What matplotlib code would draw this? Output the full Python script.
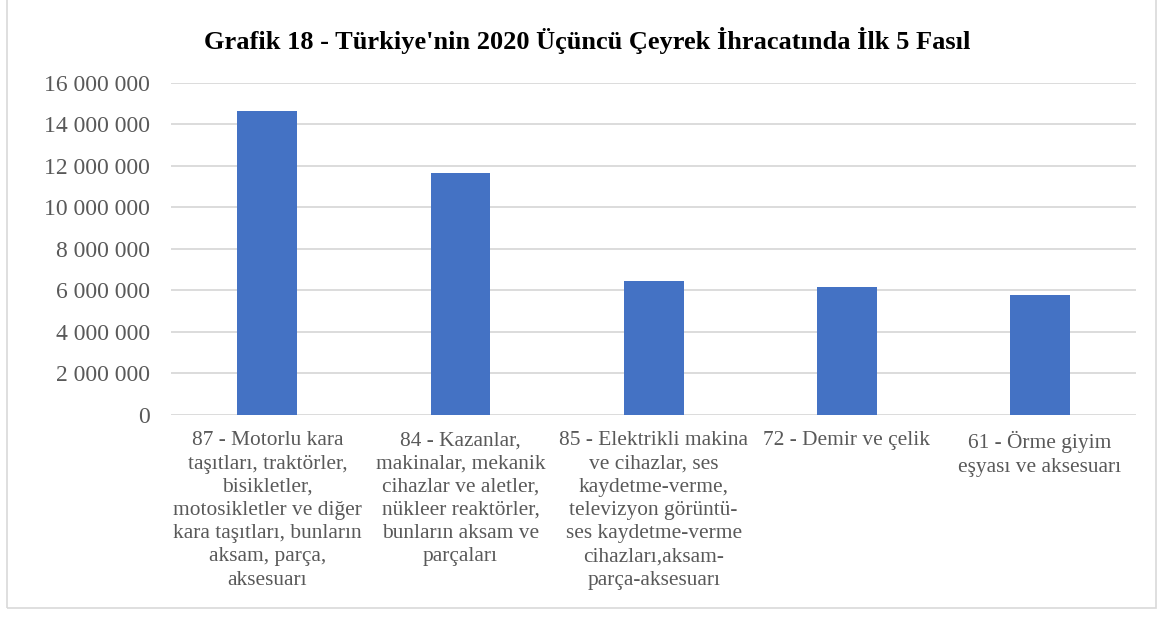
import matplotlib
matplotlib.use('Agg')
import matplotlib.pyplot as plt
from matplotlib.ticker import FuncFormatter
from matplotlib.patches import Rectangle

# data
categories = [
    "87 - Motorlu kara\ntaşıtları, traktörler,\nbisikletler,\nmotosikletler ve diğer\nkara taşıtları, bunların\naksam, parça,\naksesuarı",
    "84 - Kazanlar,\nmakinalar, mekanik\ncihazlar ve aletler,\nnükleer reaktörler,\nbunların aksam ve\nparçaları",
    "85 - Elektrikli makina\nve cihazlar, ses\nkaydetme-verme,\ntelevizyon görüntü-\nses kaydetme-verme\ncihazları,aksam-\nparça-aksesuarı",
    "72 - Demir ve çelik",
    "61 - Örme giyim\neşyası ve aksesuarı",
]
values = [14640000, 11660000, 6440000, 6160000, 5750000]
yticks = [0, 2000000, 4000000, 6000000, 8000000, 10000000, 12000000, 14000000, 16000000]

title = "Grafik 18 - Türkiye'nin 2020 Üçüncü Çeyrek İhracatında İlk 5 Fasıl"

plt.rcParams['font.family'] = ['Liberation Serif', 'DejaVu Serif']

fig = plt.figure(figsize=(11.62, 6.19), dpi=100)
ax = fig.add_axes([0.147, 0.330, 0.831, 0.536])

x = list(range(len(categories)))
ax.bar(x, values, width=0.31, color='#4472C4', zorder=3)

ax.set_xlim(-0.5, len(categories) - 0.5)
ax.set_ylim(0, 16000000)
ax.set_yticks(yticks)
ax.yaxis.set_major_formatter(FuncFormatter(lambda v, p: '{:,.0f}'.format(v).replace(',', ' ')))
ax.grid(axis='y', color='#D9D9D9', linewidth=1.3, zorder=0)

ax.set_xticks(x)
ax.set_xticklabels(categories, fontsize=15.4, color='#595959', linespacing=1.3, va='top')
ax.tick_params(axis='x', length=0, pad=12)
ax.tick_params(axis='y', length=0, pad=15, labelsize=17, labelcolor='#595959')

for s in ax.spines.values():
    s.set_visible(False)

fig.text(0.505, 0.935, title, ha='center', va='center', fontsize=19,
         fontweight='bold', color='black')

# light frame around the chart
fig.patches.append(Rectangle((0.006, 0.018), 0.989, 0.985, transform=fig.transFigure,
                             fill=False, edgecolor='#D9D9D9', linewidth=1.2))

fig.savefig('out.png', dpi=100)
